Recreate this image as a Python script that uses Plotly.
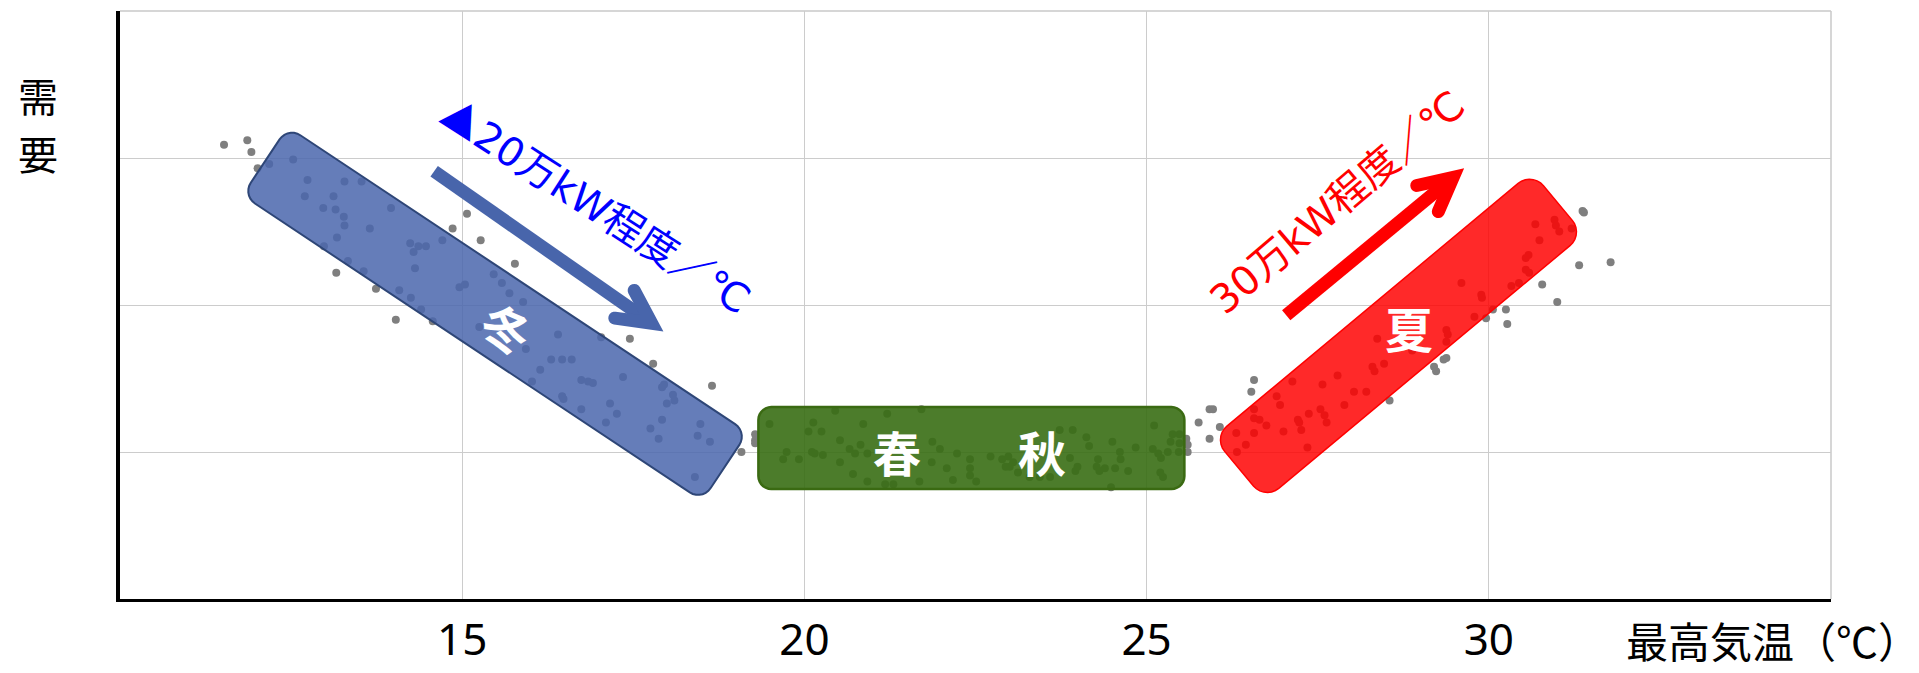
import numpy as np
import plotly.graph_objects as go

# ---------------- data ----------------
x_tick_vals = [15, 20, 25, 30]
x_tick_text = ["15", "20", "25", "30"]
x_title = "最高気温（℃）"
y_title = ["需", "要"]

winter_temp = [11.52, 11.86, 11.92, 12.01, 12.18, 12.53, 12.74, 13.28, 13.53, 12.70,
               13.12, 12.97, 13.15, 13.27, 13.28, 13.96, 13.65, 13.17, 12.98, 13.33,
               13.56, 13.16, 13.74, 14.08, 14.25, 14.40, 14.57, 14.03, 14.24, 14.36,
               14.47, 14.29, 14.31, 14.71, 14.86, 15.07, 15.27, 15.77, 15.46, 15.58,
               15.69, 14.96, 15.04, 15.89, 15.25, 15.93, 16.40, 17.03, 17.45, 16.30,
               16.46, 16.60, 16.14, 16.02, 16.74, 16.84, 16.91, 17.35, 17.79, 17.92,
               17.95, 18.08, 18.10, 16.46, 16.48, 17.16, 17.99, 18.65, 16.74, 17.26,
               17.10, 17.92, 17.75, 17.87, 18.48, 18.44, 18.62, 18.40, 19.08, 19.28,
               19.28, 19.28]
winter_demand = [3.09, 3.12, 3.04, 2.93, 2.96, 2.99, 2.85, 2.84, 2.84, 2.74,
                 2.74, 2.66, 2.65, 2.60, 2.54, 2.66, 2.52, 2.46, 2.40, 2.30,
                 2.23, 2.22, 2.11, 2.10, 2.05, 1.97, 1.89, 1.90, 2.42, 2.40,
                 2.40, 2.36, 2.25, 2.44, 2.52, 2.62, 2.44, 2.28, 2.21, 2.15,
                 2.08, 2.12, 2.14, 2.02, 1.85, 1.70, 1.80, 1.78, 1.77, 1.63,
                 1.63, 1.63, 1.56, 1.48, 1.49, 1.48, 1.47, 1.51, 1.60, 1.44,
                 1.46, 1.39, 1.35, 1.38, 1.36, 1.33, 1.33, 1.45, 1.29, 1.26,
                 1.20, 1.22, 1.16, 1.09, 1.19, 1.11, 1.07, 0.83, 1.00, 1.12,
                 1.08, 1.06]

mid_temp = [19.49, 20.13, 20.06, 20.25, 20.45, 20.86, 21.21, 21.71, 20.52, 20.66,
            20.82, 20.92, 20.74, 19.74, 20.11, 20.15, 20.27, 19.69, 19.92, 20.52,
            20.71, 20.92, 21.18, 21.30, 21.68, 21.86, 21.87, 21.98, 22.08, 22.23,
            22.42, 22.17, 22.42, 22.51, 21.46, 22.42, 22.72, 22.89, 22.98, 22.94,
            23.05, 23.00, 23.12, 23.29, 23.44, 23.59, 23.73, 23.92, 23.88, 24.12,
            24.16, 23.99, 23.96, 24.29, 24.27, 24.31, 24.39, 24.50, 24.54, 24.61,
            24.62, 24.73, 24.48, 24.84, 25.11, 25.09, 25.17, 25.21, 25.20, 25.24,
            25.31, 25.38, 25.48, 25.35, 25.48, 25.47, 25.58, 25.60, 25.60, 25.76]
mid_demand = [1.19, 1.20, 1.14, 1.14, 1.28, 1.19, 1.26, 1.29, 1.08, 1.02,
              1.05, 0.99, 0.99, 1.00, 1.00, 0.99, 0.98, 0.95, 0.95, 0.93,
              0.85, 0.80, 0.78, 0.78, 0.80, 0.93, 1.07, 1.02, 0.89, 0.99,
              0.95, 0.81, 0.84, 0.80, 0.87, 0.89, 0.97, 0.95, 0.97, 0.90,
              0.93, 0.90, 0.86, 0.83, 0.83, 0.83, 1.15, 1.15, 0.96, 1.10,
              1.04, 0.90, 0.87, 0.95, 0.90, 0.87, 0.89, 1.07, 0.89, 1.00,
              0.95, 0.87, 0.76, 1.03, 1.18, 1.02, 0.99, 0.96, 0.86, 0.83,
              1.00, 1.12, 1.12, 1.07, 1.06, 1.00, 1.09, 1.05, 1.00, 1.20]

summer_temp = [25.92, 25.97, 25.92, 26.07, 26.53, 26.57, 26.31, 26.45, 26.32, 26.57,
               26.57, 26.65, 26.75, 26.57, 26.90, 26.95, 27.00, 27.13, 27.21, 27.26,
               27.23, 27.37, 27.35, 27.57, 27.54, 27.60, 27.63, 27.79, 27.89, 28.03,
               28.21, 28.30, 28.33, 28.47, 28.37, 28.55, 28.88, 29.20, 29.23, 29.38,
               29.34, 29.38, 29.40, 29.38, 29.60, 29.79, 29.89, 29.90, 29.96, 30.06,
               30.25, 30.27, 30.33, 30.44, 30.54, 30.59, 30.54, 30.58, 30.78, 31.00,
               30.74, 30.68, 30.96, 30.98, 31.03, 31.21, 31.32, 31.37, 31.39, 31.78]
summer_demand = [1.29, 1.29, 1.09, 1.17, 1.41, 1.49, 1.13, 1.05, 1.00, 1.29,
                 1.23, 1.22, 1.18, 1.13, 1.38, 1.32, 1.14, 1.48, 1.22, 1.15,
                 1.20, 1.26, 1.03, 1.46, 1.29, 1.25, 1.20, 1.52, 1.32, 1.41,
                 1.41, 1.58, 1.55, 1.60, 1.77, 1.35, 1.69, 1.58, 1.55, 1.64,
                 1.63, 1.83, 1.80, 1.75, 2.15, 1.92, 2.07, 2.05, 1.91, 1.97,
                 1.97, 1.87, 2.13, 2.15, 2.24, 2.22, 2.32, 2.34, 2.14, 2.02,
                 2.44, 2.55, 2.58, 2.54, 2.50, 2.52, 2.27, 2.64, 2.63, 2.29]

season_labels = ["冬", "春", "秋", "夏"]
winter_note = "<span style='font-family:Noto Sans CJK JP'>▲</span>20万kW程度／℃"
summer_note = "30万kW程度／℃"

# ---------------- layout geometry ----------------
W, H = 1919, 673
ML, MR, MT, MB = 120, 88, 11, 74
X_RANGE = [10, 35]
Y_RANGE = [0, 4]
PW = W - ML - MR
PH = H - MT - MB
PX = PW / (X_RANGE[1] - X_RANGE[0])
PY = PH / (Y_RANGE[1] - Y_RANGE[0])


def to_px(x, y):
    return np.array([(x - X_RANGE[0]) * PX, (Y_RANGE[1] - y) * PY])


def to_data(p):
    return (X_RANGE[0] + p[0] / PX, Y_RANGE[1] - p[1] / PY)


def path_from_px(points):
    pts = [to_data(p) for p in points]
    return "M " + " L ".join(f"{x:.5f},{y:.5f}" for x, y in pts) + " Z"


def rounded_box(cx, cy, length, thick, angle_deg, r):
    c = to_px(cx, cy)
    th = np.radians(angle_deg)
    u = np.array([np.cos(th), np.sin(th)])
    v = np.array([-np.sin(th), np.cos(th)])
    hl, ht = length / 2 - r, thick / 2 - r
    pts = []
    for a, b, start in [(hl, ht, 0), (-hl, ht, 90), (-hl, -ht, 180), (hl, -ht, 270)]:
        cc = c + a * u + b * v
        for t in np.linspace(np.radians(start), np.radians(start + 90), 8):
            pts.append(cc + r * (np.cos(t) * u + np.sin(t) * v))
    return path_from_px(pts)


def rot(vec, deg):
    t = np.radians(deg)
    c, s = np.cos(t), np.sin(t)
    return np.array([c * vec[0] - s * vec[1], s * vec[0] + c * vec[1]])


def arrow_paths(x0, y0, x1, y1, w, arm, half):
    S = to_px(x0, y0)
    T = to_px(x1, y1)
    u = (T - S) / np.linalg.norm(T - S)
    n = np.array([-u[1], u[0]])
    back = -u
    d0 = w / (2 * np.tan(np.radians(half))) + 3
    E = T - u * d0
    shaft = [S + n * w / 2, E + n * w / 2, E - n * w / 2, S - n * w / 2]
    a1, a2 = rot(back, half), rot(back, -half)
    m1, m2 = rot(a1, -90), rot(a2, 90)
    V = T + back * (w / np.sin(np.radians(half)))
    P1 = T + a1 * arm
    Q1 = P1 + m1 * w
    P2 = T + a2 * arm
    Q2 = P2 + m2 * w
    head = [T, P1]
    c1 = P1 + m1 * w / 2
    for t in np.linspace(0, np.pi, 10):
        head.append(c1 + (w / 2) * (-m1 * np.cos(t) + a1 * np.sin(t)))
    head += [Q1, V, Q2]
    c2 = P2 + m2 * w / 2
    for t in np.linspace(0, np.pi, 10):
        head.append(c2 + (w / 2) * (m2 * np.cos(t) + a2 * np.sin(t)))
    head.append(P2)
    return path_from_px(shaft), path_from_px(head)


# ---------------- figure ----------------
fig = go.Figure()
dot = dict(color="#7f7f7f", size=8)
for xs, ys in [(winter_temp, winter_demand), (mid_temp, mid_demand), (summer_temp, summer_demand)]:
    fig.add_trace(go.Scatter(x=xs, y=ys, mode="markers", marker=dot,
                             hoverinfo="skip", showlegend=False))

shapes = []
# plot-area border (top/right)
shapes.append(dict(type="line", xref="paper", yref="paper", x0=0, x1=1, y0=1, y1=1,
                   line=dict(color="#c8c8c8", width=1.5), layer="below"))
shapes.append(dict(type="line", xref="paper", yref="paper", x0=1, x1=1, y0=0, y1=1,
                   line=dict(color="#c8c8c8", width=1.5), layer="below"))

# season boxes
shapes.append(dict(type="path", xref="x", yref="y",
                   path=rounded_box(15.48, 1.94, 552, 82, 33.6, 15),
                   fillcolor="rgba(74,102,173,0.85)",
                   line=dict(color="#2e4677", width=2)))
shapes.append(dict(type="path", xref="x", yref="y",
                   path=rounded_box(22.44, 1.027, 426, 82, 0, 13),
                   fillcolor="rgba(56,110,20,0.9)",
                   line=dict(color="#3a6a12", width=2.5)))
shapes.append(dict(type="path", xref="x", yref="y",
                   path=rounded_box(28.68, 1.79, 415, 81, -39.8, 18),
                   fillcolor="rgba(255,0,0,0.84)",
                   line=dict(color="#ff0000", width=1.5)))

# arrows
for (x0, y0, x1, y1, col) in [(14.59, 2.91, 17.94, 1.82, "#4865ab"),
                               (27.04, 1.93, 29.64, 2.93, "#ff0000")]:
    sp, hp = arrow_paths(x0, y0, x1, y1, 13, 50, 27)
    shapes.append(dict(type="path", xref="x", yref="y", path=sp,
                       fillcolor=col, line=dict(width=0)))
    shapes.append(dict(type="path", xref="x", yref="y", path=hp,
                       fillcolor=col, line=dict(width=0)))

annotations = []
CJK = "Noto Sans CJK JP"
MIX = "DejaVu Sans, Noto Sans CJK JP"
# season labels
for txt, x, y, ang in [(season_labels[0], 15.65, 1.85, 24), (season_labels[1], 21.36, 1.01, 0),
                       (season_labels[2], 23.47, 1.01, 0), (season_labels[3], 28.83, 1.85, 0)]:
    annotations.append(dict(x=x, y=y, xref="x", yref="y", text=f"<b>{txt}</b>",
                            showarrow=False, textangle=ang,
                            font=dict(family=CJK, size=48, color="white"),
                            xanchor="center", yanchor="middle"))
# slope notes
annotations.append(dict(x=16.97, y=2.69, xref="x", yref="y", text=winter_note,
                        showarrow=False, textangle=32.8,
                        font=dict(family=MIX, size=40, color="#0000ff"),
                        xanchor="center", yanchor="middle"))
annotations.append(dict(x=27.79, y=2.70, xref="x", yref="y", text=summer_note,
                        showarrow=False, textangle=-40.4,
                        font=dict(family=MIX, size=40, color="#ff0000"),
                        xanchor="center", yanchor="middle"))
# axis titles
annotations.append(dict(x=0.966, y=(H - MB - 672) / PH, xref="paper", yref="paper",
                        text=x_title, showarrow=False,
                        font=dict(family=CJK, size=42, color="black"),
                        xanchor="center", yanchor="bottom"))
for ch, ypx in zip(y_title, [95, 153]):
    annotations.append(dict(x=-0.048, y=(H - MB - ypx) / PH, xref="paper", yref="paper",
                            text=ch, showarrow=False,
                            font=dict(family=CJK, size=40, color="black"),
                            xanchor="center", yanchor="middle"))

fig.update_layout(
    width=W, height=H,
    margin=dict(l=ML, r=MR, t=MT, b=MB, pad=0, autoexpand=False),
    paper_bgcolor="white", plot_bgcolor="white",
    showlegend=False,
    shapes=shapes, annotations=annotations,
    xaxis=dict(range=X_RANGE, tickvals=x_tick_vals, ticktext=x_tick_text,
               showgrid=True, gridcolor="#cccccc", gridwidth=1,
               showline=True, linecolor="black", linewidth=3, automargin=False,
               zeroline=False, ticks="",
               tickfont=dict(family="Noto Sans", size=44, color="black"),
               fixedrange=True),
    yaxis=dict(range=Y_RANGE, tickvals=[1, 2, 3], showticklabels=False,
               showgrid=True, gridcolor="#cccccc", gridwidth=1,
               showline=True, linecolor="black", linewidth=4, automargin=False,
               zeroline=False, ticks="", fixedrange=True),
)

post = (
    "document.documentElement.style.margin='0px';"
    "document.documentElement.style.overflow='hidden';"
    "document.body.style.margin='0px';"
    "document.body.style.overflow='hidden';"
    "var gd=document.getElementById('{plot_id}');"
    "gd.style.overflow='hidden';"
    "var sc=gd.querySelectorAll('.svg-container');"
    "for(var i=0;i<sc.length;i++){sc[i].style.overflow='hidden';}"
)
fig.write_html("out.html", config={"displayModeBar": False, "staticPlot": True},
               post_script=post)
